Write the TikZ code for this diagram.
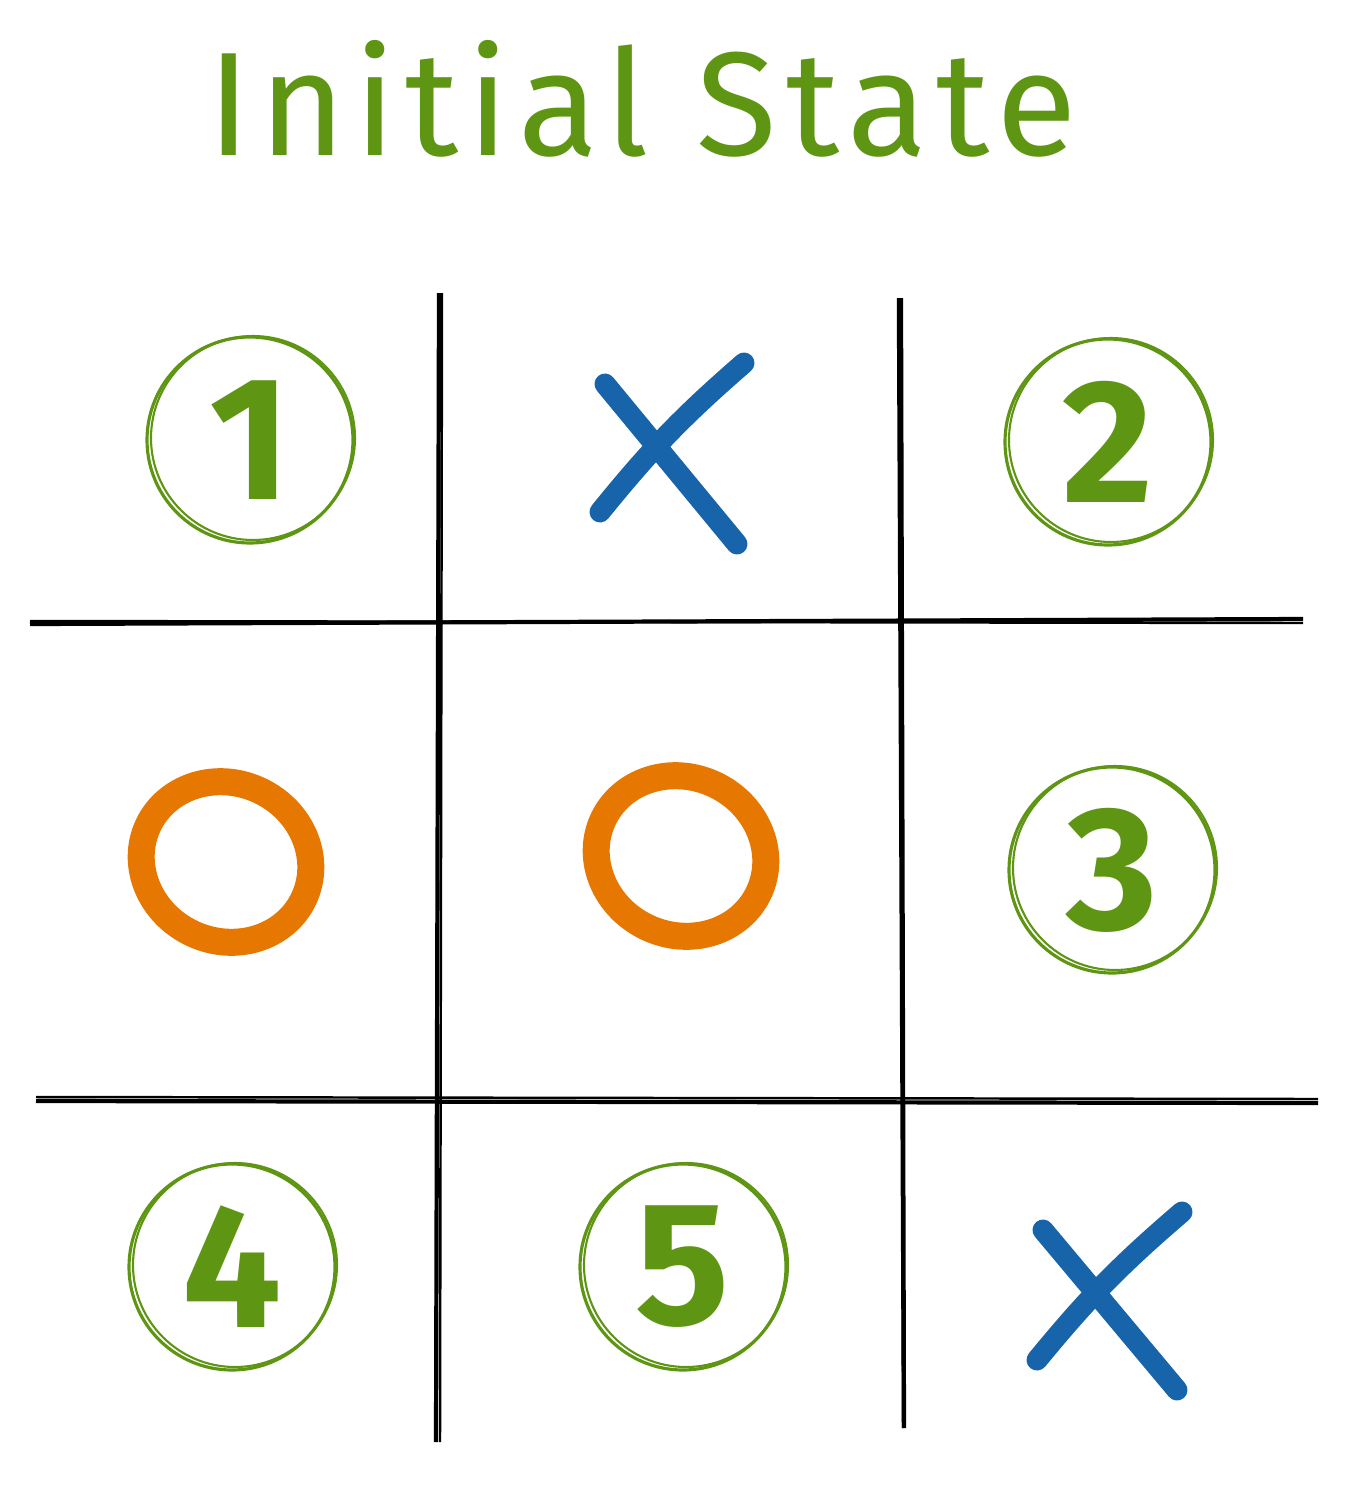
\documentclass[tikz,border=0pt]{standalone}
\usepackage{fontspec}
\setmainfont{Fira Sans}
\usepackage{xcolor}
\usepackage{tikz}
\usetikzlibrary{positioning}
\definecolor{sketchgreen}{HTML}{5E9614}
\definecolor{crossblue}{HTML}{1864AB}
\definecolor{ringorange}{HTML}{E67700}

\begin{document}
\begin{tikzpicture}[
titlenode/.style={text=sketchgreen, anchor=base, font=\fontsize{42}{42}\selectfont\addfontfeature{LetterSpace=6}},
numnode/.style={circle, draw=sketchgreen, line width=0.9pt, minimum size=2.06cm, inner sep=0pt, text=sketchgreen, font=\fontsize{50}{50}\selectfont\bfseries},
gridline/.style={black, line width=1.2pt},
crossline/.style={draw=crossblue, line width=0.21cm, line cap=round},
ringline/.style={draw=ringorange, line width=0.27cm},
]
\useasboundingbox (0,0) rectangle (13.48,-15.12);

%Title
\node[titlenode]	(title)	at (6.42,-1.55)		{Initial State};

%Grid corners
\coordinate (v1top) at (4.39,-2.93);
\coordinate (v1bot) at (4.36,-14.42);
\coordinate (v2top) at (9.01,-2.98);
\coordinate (v2bot) at (9.04,-14.28);
\coordinate (h1lft) at (0.30,-6.24);
\coordinate (h1rgt) at (13.03,-6.19);
\coordinate (h2lft) at (0.36,-11.01);
\coordinate (h2rgt) at (13.18,-11.03);

%Lines
\draw[gridline] (v1top) -- (v1bot);
\draw[gridline, line width=0.7pt] ([xshift=0.03cm]v1top) -- ([xshift=0.04cm]v1bot);
\draw[gridline] (v2top) -- (v2bot);
\draw[gridline, line width=0.7pt] ([xshift=-0.03cm]v2top) -- ([xshift=-0.01cm]v2bot);
\draw[gridline] (h1lft) -- (h1rgt);
\draw[gridline, line width=0.7pt] ([yshift=0.03cm]h1lft) -- ([yshift=-0.04cm]h1rgt);
\draw[gridline] (h2lft) -- (h2rgt);
\draw[gridline, line width=0.7pt] ([yshift=0.04cm]h2lft) -- ([yshift=0.04cm]h2rgt);

%Free cells
\node[numnode]	(num1)	at (2.50,-4.40)		{1};
\node[numnode]	(num2)	at (11.08,-4.42)	{2};
\node[numnode]	(num3)	at (11.12,-8.70)	{3};
\node[numnode]	(num4)	at (2.32,-12.67)	{4};
\node[numnode]	(num5)	at (6.83,-12.67)	{5};
\foreach \n in {num1,num2,num3,num4,num5}
  \draw[sketchgreen, line width=0.6pt] ([shift={(0.03,0.02)}]\n.center) circle (1.02);

%Crosses
\draw[crossline] (6.05,-3.84) -- (7.37,-5.44);
\draw[crossline] (7.44,-3.63) to[bend right=5] (6.00,-5.12);
\draw[crossline] (10.43,-12.30) -- (11.77,-13.90);
\draw[crossline] (11.82,-12.12) to[bend right=5] (10.37,-13.60);

%Rings
\draw[ringline, rotate around={-25:(2.26,-8.62)}] (2.26,-8.62) ellipse (0.86 and 0.79);
\draw[ringline, rotate around={-25:(6.81,-8.56)}] (6.81,-8.56) ellipse (0.86 and 0.79);
\end{tikzpicture}
\end{document}
